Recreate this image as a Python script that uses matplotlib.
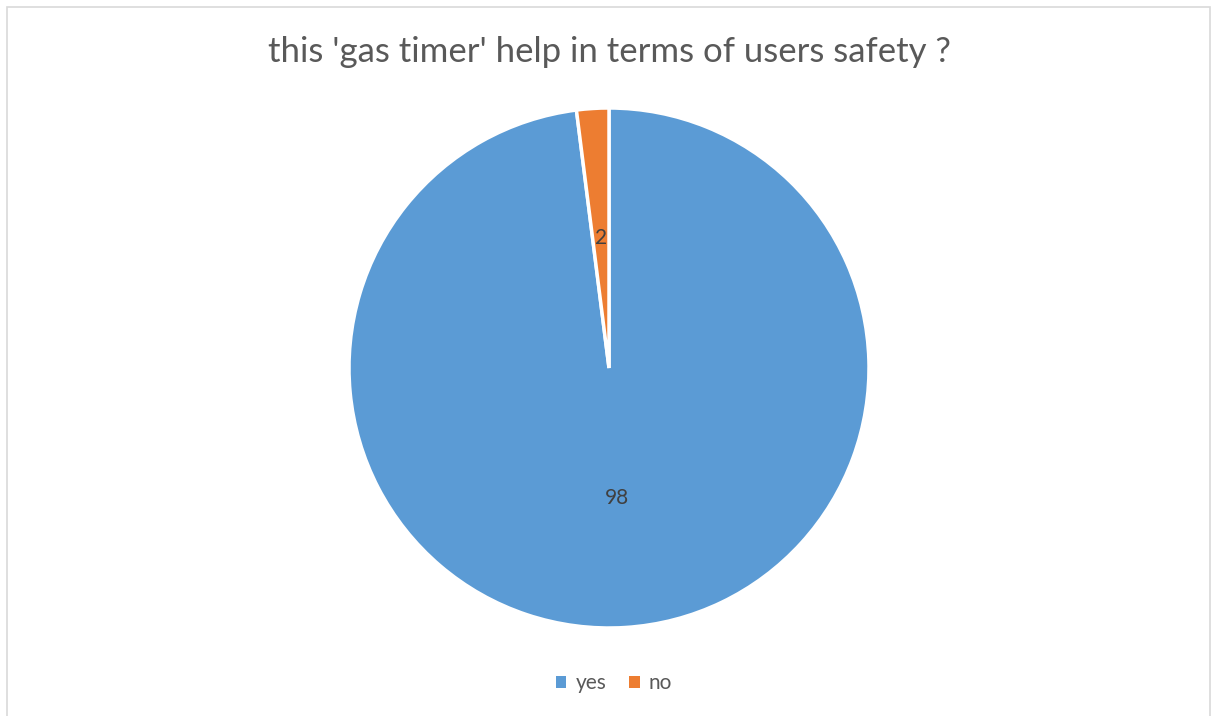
import matplotlib
matplotlib.use("Agg")
import matplotlib.pyplot as plt
from matplotlib.patches import Patch, Rectangle

categories = ["yes", "no"]
values = [98, 2]
colors = ["#5B9BD5", "#ED7D31"]
title = "this 'gas timer' help in terms of users safety ?"

W, H = 1217, 716
fig = plt.figure(figsize=(W / 100, H / 100), dpi=100)
plt.rcParams['font.family'] = ['Lato', 'DejaVu Sans']

# chart border
fig.patches.append(Rectangle((7 / W, -0.01), (1210 - 7) / W, (716 - 7) / H + 0.01,
                             transform=fig.transFigure, fill=False,
                             edgecolor="#D9D9D9", linewidth=1.2))

cx, cy, r = 609, 368, 260
ax = fig.add_axes([(cx - r) / W, (H - cy - r) / H, 2 * r / W, 2 * r / H])
total = sum(values)
wedges, texts, autotexts = ax.pie(
    values, colors=colors, startangle=90, counterclock=False,
    autopct=lambda p: f"{p * total / 100:.0f}", pctdistance=0.5,
    wedgeprops=dict(edgecolor="white", linewidth=2.5),
    textprops=dict(color="#404040", fontsize=15))
ax.set_xlim(-1, 1)
ax.set_ylim(-1, 1)
ax.set_aspect("equal")
ax.axis("off")

fig.text(cx / W, 1 - 52 / H, title, ha="center", va="center",
         fontsize=25, color="#595959")

handles = [Patch(facecolor=c, edgecolor="none") for c in colors]
fig.legend(handles, categories, loc="center", bbox_to_anchor=(614 / W, 1 - 683 / H),
           ncol=2, frameon=False, fontsize=15, labelcolor="#595959",
           handlelength=0.5, handleheight=0.5, handletextpad=0.45, columnspacing=1.1)

fig.savefig("out.png", dpi=100)
